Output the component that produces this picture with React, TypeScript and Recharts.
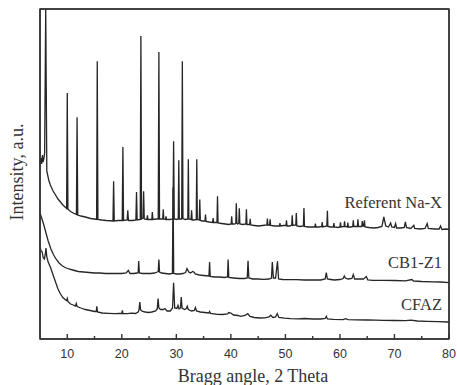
import React from 'react';
import { LineChart, Line, XAxis, YAxis } from 'recharts';

// 2-theta (deg), intensity (a.u., stacked offsets included); 330 = top edge of the frame
const naXPoints: [number, number][] = [
  [5.0, 176], [5.15, 181], [5.3, 175], [5.45, 184], [5.55, 177], [5.7, 180], [5.85, 186],
  [6.05, 330], [6.25, 168], [6.6, 159], [6.9, 154], [7.4, 148], [7.85, 144], [8.3, 140], [8.75, 137],
  [9.2, 134], [9.7, 131.5], [9.88, 130.5], [10.0, 246], [10.12, 130], [10.6, 127.5], [11.1, 126],
  [11.68, 124.5], [11.8, 221.7], [11.92, 124], [12.5, 123], [13.3, 122], [14.3, 120.5], [15.0, 120],
  [15.38, 119.5], [15.5, 277.7], [15.62, 119.5], [16.3, 119], [17.2, 118.5], [18.38, 118], [18.5, 157.7],
  [18.62, 118], [19.3, 118.5], [20.08, 118.5], [20.2, 192], [20.32, 118.5], [20.98, 119], [21.1, 128.7],
  [21.22, 118.5], [22.0, 118.5], [22.58, 119], [22.7, 147], [22.82, 119], [23.38, 119.5], [23.5, 303],
  [23.62, 120], [23.9, 121], [24.0, 147.7], [24.12, 120], [24.6, 119.5], [24.7, 123.7], [24.8, 119.5],
  [25.5, 119.5], [25.6, 127], [25.7, 119.5], [26.3, 120], [26.68, 120], [26.8, 287], [26.92, 120],
  [27.5, 120], [27.6, 129.7], [27.7, 120], [28.0, 119.5], [28.1, 122.7], [28.2, 119.5], [28.8, 119.5],
  [29.38, 120], [29.5, 197.7], [29.62, 120], [30.0, 119.5], [30.35, 120], [30.45, 178.7], [30.55, 120],
  [30.98, 120], [31.1, 277.7], [31.22, 120.5], [31.6, 119.5], [32.1, 120], [32.2, 179.7], [32.3, 120],
  [32.7, 119.5], [32.8, 128.7], [32.9, 119], [33.3, 119], [33.65, 119.5], [33.75, 179.7], [33.85, 119.5],
  [34.2, 119], [34.3, 139.4], [34.4, 118.5], [34.8, 118], [35.25, 118], [35.35, 124.4], [35.45, 117.5],
  [36.0, 117], [36.65, 116.5], [36.75, 121], [36.85, 116.5], [37.45, 116.5], [37.55, 142.7], [37.65, 116],
  [38.3, 115.5], [39.0, 115], [39.6, 114.5], [40.05, 115], [40.15, 122.7], [40.25, 115], [40.6, 115],
  [40.9, 115.5], [41.0, 135.7], [41.1, 116], [41.25, 115], [41.45, 116], [41.55, 130.7], [41.65, 115],
  [42.2, 114.5], [42.75, 115], [42.85, 129.7], [42.95, 114.5], [43.45, 114.5], [43.55, 120.2], [43.65, 114],
  [44.3, 113.5], [45.0, 113], [45.8, 113.5], [46.6, 114], [46.7, 120.4], [46.8, 114], [47.1, 114],
  [47.2, 119.7], [47.3, 113.5], [48.0, 113], [48.9, 113], [49.0, 116], [49.1, 113], [49.6, 113.5],
  [50.1, 113.5], [50.2, 118.7], [50.3, 113], [50.8, 113], [51.15, 114], [51.25, 123.7], [51.35, 113.5],
  [51.9, 114], [52.0, 126], [52.1, 113], [52.7, 112.5], [53.3, 113], [53.4, 131], [53.5, 112.5],
  [54.2, 112], [55.0, 112], [55.4, 112], [55.5, 115.4], [55.6, 112], [56.2, 112], [56.65, 112.5],
  [56.75, 117], [56.85, 112], [57.6, 113], [57.7, 128.2], [57.8, 112.5], [58.3, 112], [58.8, 112],
  [58.9, 116], [59.0, 112], [59.6, 111.5], [60.0, 112], [60.1, 116.7], [60.2, 112], [60.75, 112.5],
  [60.85, 117.7], [60.95, 112.5], [61.35, 112], [61.45, 116.4], [61.55, 112], [62.0, 112], [62.35, 112.5],
  [62.45, 118.7], [62.55, 112.5], [63.2, 112.5], [63.3, 119.7], [63.4, 112.5], [64.0, 112.5], [64.1, 118],
  [64.25, 113], [64.4, 113], [64.5, 118.7], [64.6, 112], [65.3, 111.5], [66.2, 111], [67.0, 111.5],
  [67.7, 112.5], [68.05, 122], [68.4, 113], [68.9, 112], [69.3, 116], [69.5, 112], [70.0, 111.5],
  [70.2, 115.4], [70.4, 111], [71.2, 111], [71.8, 111.5], [72.0, 117], [72.2, 111.5], [73.0, 110.5],
  [73.55, 113.7], [73.7, 110.5], [74.7, 110], [75.6, 110.5], [76.0, 115.4], [76.2, 110.5], [77.3, 110],
  [78.2, 110], [78.45, 113], [78.7, 109.5], [79.4, 110], [80.0, 109.5],
];

const cb1Z1Points: [number, number][] = [
  [5.0, 126], [5.3, 121], [5.6, 116], [6.0, 108], [6.5, 98], [7.0, 90], [7.5, 84], [8.0, 79.5],
  [8.5, 76], [9.0, 73.5], [9.6, 71.5], [10.3, 70], [11.0, 69], [12.0, 67.5], [13.0, 67], [14.0, 66.5],
  [15.0, 66], [16.0, 66], [17.0, 65.5], [18.0, 65.5], [19.0, 65.5], [20.0, 65.5], [20.8, 66], [21.2, 68.5],
  [21.5, 65.5], [22.2, 65.5], [22.8, 66], [23.0, 66.5], [23.1, 78], [23.22, 66], [23.8, 65.5], [24.5, 65.5],
  [25.3, 65.5], [26.0, 66], [26.5, 67], [26.68, 67.5], [26.8, 79.4], [26.92, 67], [27.3, 66], [28.0, 65.5],
  [28.7, 65], [29.28, 65.5], [29.4, 151.7], [29.52, 65.5], [30.0, 65], [30.6, 65], [31.2, 65.5],
  [31.7, 66.5], [31.95, 70.4], [32.3, 67], [32.6, 66], [33.0, 67.5], [33.2, 67], [33.5, 65], [34.2, 64],
  [35.0, 63.5], [35.98, 63], [36.1, 77], [36.22, 62.5], [37.0, 62], [38.0, 62], [38.8, 61.5], [39.38, 62],
  [39.5, 79.4], [39.62, 61.5], [40.5, 61], [41.5, 60.5], [42.5, 60.5], [43.0, 61], [43.15, 78.3],
  [43.3, 61], [44.0, 60], [45.0, 60], [46.0, 59.7], [47.0, 60], [47.45, 61], [47.6, 77], [47.8, 61],
  [48.2, 61], [48.55, 77.7], [48.75, 60], [49.5, 59.5], [50.5, 59.4], [52.0, 59.4], [53.5, 59], [55.0, 59],
  [56.5, 59], [57.3, 60], [57.5, 66.4], [57.7, 60], [58.3, 59.5], [59.0, 59], [60.0, 59.5], [60.6, 60.5],
  [60.8, 63], [61.0, 61], [61.5, 60], [62.2, 60.5], [62.45, 64.5], [62.7, 60], [63.5, 60], [64.3, 60],
  [64.85, 62.5], [65.1, 59], [66.0, 58.7], [68.0, 58.7], [70.0, 58.5], [72.0, 58.2], [73.2, 59.5],
  [73.5, 58], [75.0, 57.5], [77.0, 57.2], [78.5, 57], [80.0, 56.4],
];

const cfazPoints: [number, number][] = [
  [5.0, 92], [5.2, 88], [5.4, 87], [5.6, 81], [5.8, 80], [5.95, 84], [6.1, 91], [6.25, 82], [6.5, 77],
  [6.9, 72], [7.4, 64], [7.85, 57], [8.3, 50], [8.75, 45], [9.2, 41.5], [9.7, 39], [9.88, 38.5],
  [10.0, 40.5], [10.12, 37.5], [10.6, 35], [11.1, 34], [11.5, 33], [11.65, 35.5], [11.8, 32.5],
  [12.5, 31], [13.3, 29.5], [14.2, 28.5], [15.0, 27.5], [15.3, 27.5], [15.42, 32.7], [15.55, 27],
  [16.4, 26], [17.5, 25.7], [18.8, 25.4], [19.6, 25.5], [20.0, 25.5], [20.1, 28.7], [20.2, 25.5],
  [21.0, 25.4], [21.8, 25.8], [22.5, 25.5], [23.0, 27], [23.15, 29], [23.3, 37], [23.45, 29], [23.8, 27.5],
  [24.3, 27], [24.9, 26.5], [25.5, 27], [26.2, 28], [26.5, 30], [26.65, 40.4], [26.8, 31], [27.1, 29.5],
  [27.6, 29.5], [27.9, 30.5], [28.3, 28], [28.9, 28], [29.3, 31], [29.5, 56.2], [29.7, 31], [30.1, 30.5],
  [30.3, 33.7], [30.5, 30], [30.75, 31], [30.9, 42], [31.05, 31], [31.5, 29.5], [31.85, 30.5], [32.0, 32.7],
  [32.2, 29.5], [32.8, 28], [33.3, 28.5], [33.5, 31.4], [33.7, 28], [34.4, 27], [35.2, 26.5], [36.0, 26],
  [36.1, 27.5], [36.3, 25.5], [37.5, 24.7], [38.5, 24.5], [39.4, 25], [39.6, 26.5], [40.0, 26], [40.5, 24],
  [41.3, 23.5], [41.8, 22.7], [42.6, 23.5], [43.1, 25.4], [43.5, 22.5], [44.3, 21.5], [45.4, 21],
  [46.2, 21.2], [47.0, 22], [47.3, 23.7], [47.7, 21.5], [48.2, 22], [48.5, 25.4], [48.8, 21.5],
  [49.8, 20.8], [50.9, 20.4], [52.3, 20.2], [53.5, 20.5], [55.0, 20], [56.5, 20], [57.3, 20.5],
  [57.5, 22.7], [57.7, 20], [58.8, 19.6], [60.6, 19.4], [61.0, 20.3], [61.5, 19.4], [63.0, 19.2],
  [65.0, 19], [66.5, 18.9], [68.0, 18.7], [70.0, 18.5], [72.0, 18.3], [73.0, 18.8], [74.2, 18],
  [76.0, 17.7], [78.0, 17.4], [79.7, 17], [80.0, 17],
];

const xTicks = [10, 15, 20, 25, 30, 35, 40, 45, 50, 55, 60, 65, 70, 75, 80];
const xDomain: [number, number] = [5, 80];
const yDomain: [number, number] = [0, 330];
const seriesNames = ['Referent Na-X', 'CB1-Z1', 'CFAZ'];
const xTitle = 'Bragg angle, 2 Theta';
const yTitle = 'Intensity, a.u.';

const toRows = (pts: [number, number][]) => pts.map(([x, y]) => ({ x, y }));

const SERIF = '"Liberation Serif", "Times New Roman", serif';
const SANS = '"Liberation Sans", Arial, sans-serif';
const INK = '#262626';
const FRAME = '#333333';

// chart geometry (layout only)
const W = 449;
const H = 377;
const MARGIN = { top: 0, right: 7, bottom: 0, left: 31 };
const AXIS_W = 1;
const XAXIS_H = 46;
const PLOT = {
  x: MARGIN.left + AXIS_W,
  y: MARGIN.top + AXIS_W,
  w: W - MARGIN.left - MARGIN.right - 2 * AXIS_W,
  h: H - MARGIN.top - AXIS_W - XAXIS_H,
};

const XTick = (props: any) => {
  const { x, y, payload } = props;
  const v = payload.value as number;
  const major = v % 10 === 0;
  return (
    <g>
      <path d={`M${x},${y}V${y - (major ? 5 : 3)}`} stroke={FRAME} strokeWidth={1.4} fill="none" />
      {major && (
        <text x={x} y={y + 18.5} textAnchor="middle" fontFamily={SANS} fontSize={12.5} fill="#333">
          {v}
        </text>
      )}
    </g>
  );
};

export default function App() {
  return (
    <div style={{ width: W, height: H, padding: '8px 0 0 8px' }}>
      <style>{`body{margin:0}`}</style>
      <LineChart width={W} height={H} margin={MARGIN}>
        <XAxis
          dataKey="x"
          type="number"
          domain={xDomain}
          ticks={xTicks}
          interval={0}
          height={XAXIS_H}
          stroke={FRAME}
          strokeWidth={1.4}
          tickSize={0}
          tickMargin={0}
          tickLine={false}
          tick={<XTick />}
        />
        <XAxis xAxisId="top" orientation="top" dataKey="x" type="number" domain={xDomain} height={AXIS_W} tick={false} stroke={FRAME} strokeWidth={1.4} />
        <YAxis type="number" domain={yDomain} width={AXIS_W} tick={false} stroke={FRAME} strokeWidth={1.6} />
        <YAxis yAxisId="right" orientation="right" type="number" domain={yDomain} width={AXIS_W} tick={false} stroke={FRAME} strokeWidth={1.4} />
        <Line data={toRows(naXPoints)} dataKey="y" type="linear" stroke={INK} strokeWidth={1.3} dot={false} isAnimationActive={false} />
        <Line data={toRows(cb1Z1Points)} dataKey="y" type="linear" stroke={INK} strokeWidth={1.3} dot={false} isAnimationActive={false} />
        <Line data={toRows(cfazPoints)} dataKey="y" type="linear" stroke={INK} strokeWidth={1.3} dot={false} isAnimationActive={false} />
        <rect x={PLOT.x} y={PLOT.y} width={PLOT.w} height={PLOT.h} fill="none" stroke={FRAME} strokeWidth={1.4} />
        <text x={434} y={200} textAnchor="end" fontFamily={SERIF} fontSize={16.5} fill="#333">{seriesNames[0]}</text>
        <text x={434} y={260} textAnchor="end" fontFamily={SERIF} fontSize={16.5} fill="#333">{seriesNames[1]}</text>
        <text x={434} y={302} textAnchor="end" fontFamily={SERIF} fontSize={16.5} fill="#333">{seriesNames[2]}</text>
        <text x={245} y={374} textAnchor="middle" fontFamily={SERIF} fontSize={18} fill="#333">{xTitle}</text>
        <text x={15} y={164} textAnchor="middle" fontFamily={SERIF} fontSize={18} fill="#333" transform="rotate(-90 15 164)">{yTitle}</text>
      </LineChart>
    </div>
  );
}
